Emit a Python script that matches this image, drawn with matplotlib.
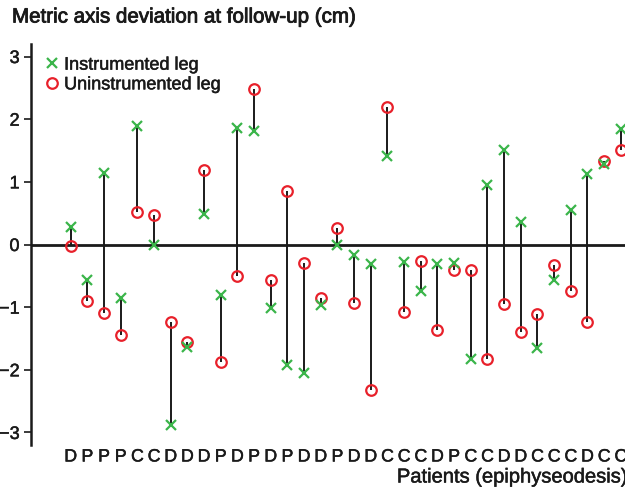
import numpy as np
import matplotlib
matplotlib.use("Agg")
import matplotlib.pyplot as plt
import matplotlib.patheffects as pe
from matplotlib.lines import Line2D

plt.rcParams['font.family'] = ['Liberation Sans', 'DejaVu Sans']

# group of each patient (D, P, C)
groups = list("DPPPCCDDDPDPDPDDPDDCCCDPCCDDCCCDCC")

# deviation at follow-up (cm)
instrumented = [0.28, -0.57, 1.14, -0.85, 1.89, 0.00, -2.88, -1.63, 0.49, -0.81,
                1.86, 1.81, -1.02, -1.92, -2.05, -0.96, 0.00, -0.17, -0.31, 1.41,
                -0.28, -0.74, -0.31, -0.30, -1.83, 0.95, 1.51, 0.36, -1.65, -0.57,
                0.55, 1.13, 1.29, 1.84]
uninstrumented = [-0.02, -0.90, -1.09, -1.45, 0.52, 0.47, -1.23, -1.56, 1.19, -1.88,
                  -0.51, 2.48, -0.57, 0.85, -0.30, -0.85, 0.27, -0.93, -2.33, 2.19,
                  -1.08, -0.26, -1.37, -0.41, -0.41, -1.83, -0.95, -1.39, -1.11, -0.32,
                  -0.74, -1.24, 1.33, 1.51]

green = '#3bb54a'
red = '#e8202a'
ink = '#1a1a1a'
thick = [pe.withStroke(linewidth=0.35, foreground=ink)]

fig = plt.figure(figsize=(6.25, 4.89), dpi=100)
ax = fig.add_axes([30.7 / 625, 43 / 489, 1 - 30.7 / 625, (446 - 45) / 489])

x = np.arange(len(groups))
ax.axhline(0, color=ink, lw=2.0, zorder=1)
ax.vlines(x, instrumented, uninstrumented, color=ink, lw=1.4, zorder=2)
ax.plot(x, uninstrumented, 'o', ms=7.6, mfc='none', mec=red, mew=1.6, zorder=3)
ax.plot(x, instrumented, 'x', ms=7.0, mec=green, mew=1.6, zorder=4)

ax.set_xlim(-2.4, 33.25)
ax.set_ylim(-3.2, 3.2)
ax.set_yticks([-3, -2, -1, 0, 1, 2, 3])
ax.set_yticklabels(['\u22123', '\u22122', '\u22121', '0', '1', '2', '3'])
ax.set_xticks(x)
ax.set_xticklabels(groups)

for s in ['top', 'right', 'bottom']:
    ax.spines[s].set_visible(False)
ax.spines['left'].set_linewidth(1.8)
ax.spines['left'].set_color(ink)
ax.tick_params(axis='y', length=5, width=1.2, labelsize=13, pad=3, colors=ink)
ax.tick_params(axis='x', length=0, labelsize=12.8, pad=2.5, colors=ink)
for t in ax.get_xticklabels() + ax.get_yticklabels():
    t.set_path_effects(thick)

handles = [
    Line2D([], [], ls='none', marker='x', ms=7.0, mec=green, mew=1.6, label='Instrumented leg'),
    Line2D([], [], ls='none', marker='o', ms=7.6, mfc='none', mec=red, mew=1.6, label='Uninstrumented leg'),
]
leg = ax.legend(handles=handles, loc='upper left', bbox_to_anchor=(0.0, 1.0), frameon=False,
                fontsize=13, handlelength=1.0, handletextpad=0.15, labelspacing=0.15,
                borderaxespad=0.3)
for t in leg.get_texts():
    t.set_color(ink)
    t.set_path_effects(thick)

fig.text(12 / 625, 1 - 18 / 489, 'Metric axis deviation at follow-up (cm)',
         fontsize=14.8, va='center', ha='left', color=ink,
         path_effects=[pe.withStroke(linewidth=0.6, foreground=ink)])
fig.text(628 / 625, 1 - 478 / 489, 'Patients (epiphyseodesis)',
         fontsize=14.5, va='center', ha='right', color=ink, path_effects=thick)

fig.savefig('out.png', dpi=100)
